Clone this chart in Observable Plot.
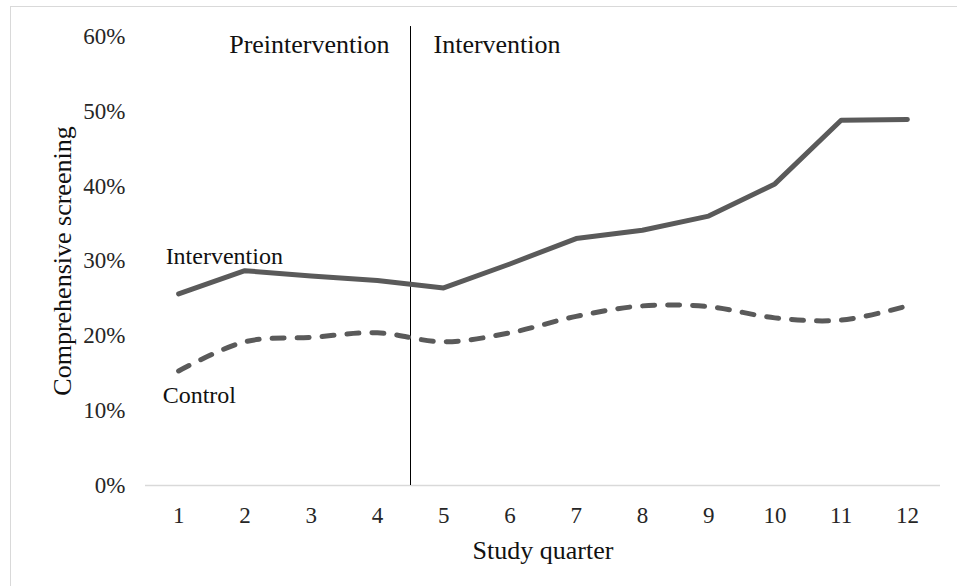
<!DOCTYPE html>
<html>
<head>
<meta charset="utf-8">
<script src="https://cdn.jsdelivr.net/npm/d3@7"></script>
<script src="https://cdn.jsdelivr.net/npm/@observablehq/plot@0.6"></script>
<style>
  html, body { margin: 0; padding: 0; background: #fff; overflow: hidden; }
  #wrap { position: relative; width: 957px; height: 586px; }
  #border { position: absolute; left: 10px; top: 6px; width: 960px; height: 600px; border: 1px solid #d9d9d9; box-sizing: border-box; pointer-events: none; }
  #chart { position: absolute; left: 0; top: 0; }
  #chart svg text { font-family: 'Liberation Serif', 'Times New Roman', serif; }
</style>
</head>
<body>
<div id="wrap"><div id="border"></div><div id="chart"></div></div>
<script>
const quarters = [1, 2, 3, 4, 5, 6, 7, 8, 9, 10, 11, 12];
const intervention = [25.6, 28.7, 28.0, 27.4, 26.4, 29.6, 33.0, 34.1, 36.0, 40.3, 48.8, 48.9];
const control = [15.3, 19.2, 19.8, 20.4, 19.2, 20.4, 22.6, 24.0, 23.9, 22.4, 22.1, 24.0];
const yTicks = [0, 0.1, 0.2, 0.3, 0.4, 0.5, 0.6];
const phaseBoundary = 4.5;
const phaseLabels = ["Preintervention", "Intervention"];
const seriesLabels = ["Intervention", "Control"];
const xTitle = "Study quarter";
const yTitle = "Comprehensive screening";

const interData = quarters.map((q, i) => ({q, v: intervention[i] / 100}));
const ctrlData = quarters.map((q, i) => ({q, v: control[i] / 100}));

const lineColor = "#5a5a5a";
const serif = "'Liberation Serif', 'Times New Roman', serif";

const plot = Plot.plot({
  width: 957,
  height: 586,
  marginLeft: 145,
  marginRight: 17,
  marginTop: 36,
  marginBottom: 101,
  style: {fontFamily: serif, fontSize: "23px", color: "#262626", background: "transparent", overflow: "visible"},
  x: {domain: [0.5, 12.5], axis: null},
  y: {domain: [0, 0.6], axis: null},
  marks: [
    Plot.axisY({ticks: yTicks, tickFormat: d3.format(".0%"), tickSize: 0, tickPadding: 20, label: null, fontSize: 23, fontFamily: serif}),
    Plot.axisX({ticks: quarters, tickFormat: d3.format("d"), tickSize: 0, tickPadding: 21, label: null, fontSize: 23, fontFamily: serif}),
    Plot.ruleY([0], {stroke: "#d9d9d9", strokeWidth: 1.5}),
    Plot.ruleX([phaseBoundary], {y1: 0, y2: 0.6133, stroke: "#000", strokeWidth: 1, clip: false}),
    Plot.line(ctrlData, {x: "q", y: "v", stroke: lineColor, strokeWidth: 5, strokeDasharray: "12,13", strokeLinecap: "round", curve: "catmull-rom"}),
    Plot.line(interData, {x: "q", y: "v", stroke: lineColor, strokeWidth: 5, strokeLinecap: "round", strokeLinejoin: "round"}),
    Plot.text([phaseLabels[0]], {x: phaseBoundary, frameAnchor: "top", dx: -21, dy: 16, text: d => d, textAnchor: "end", lineAnchor: "bottom", fontSize: 26, fontFamily: serif, fill: "#111"}),
    Plot.text([phaseLabels[1]], {x: phaseBoundary, frameAnchor: "top", dx: 23, dy: 16, text: d => d, textAnchor: "start", lineAnchor: "bottom", fontSize: 26, fontFamily: serif, fill: "#111"}),
    Plot.text([seriesLabels[0]], {x: quarters[0], y: intervention[0] / 100, dx: -13, dy: -30, text: d => d, textAnchor: "start", lineAnchor: "bottom", fontSize: 24, fontFamily: serif, fill: "#111"}),
    Plot.text([seriesLabels[1]], {x: quarters[0], y: control[0] / 100, dx: -16, dy: 32, text: d => d, textAnchor: "start", lineAnchor: "bottom", fontSize: 24, fontFamily: serif, fill: "#111"}),
    Plot.text([xTitle], {frameAnchor: "bottom", dy: 65, text: d => d, textAnchor: "middle", lineAnchor: "middle", fontSize: 26, fontFamily: serif, fill: "#111"}),
    Plot.text([yTitle], {frameAnchor: "left", dx: -83, text: d => d, rotate: -90, textAnchor: "middle", lineAnchor: "middle", fontSize: 26, fontFamily: serif, fill: "#111"})
  ]
});
document.getElementById("chart").appendChild(plot);
</script>
</body>
</html>
